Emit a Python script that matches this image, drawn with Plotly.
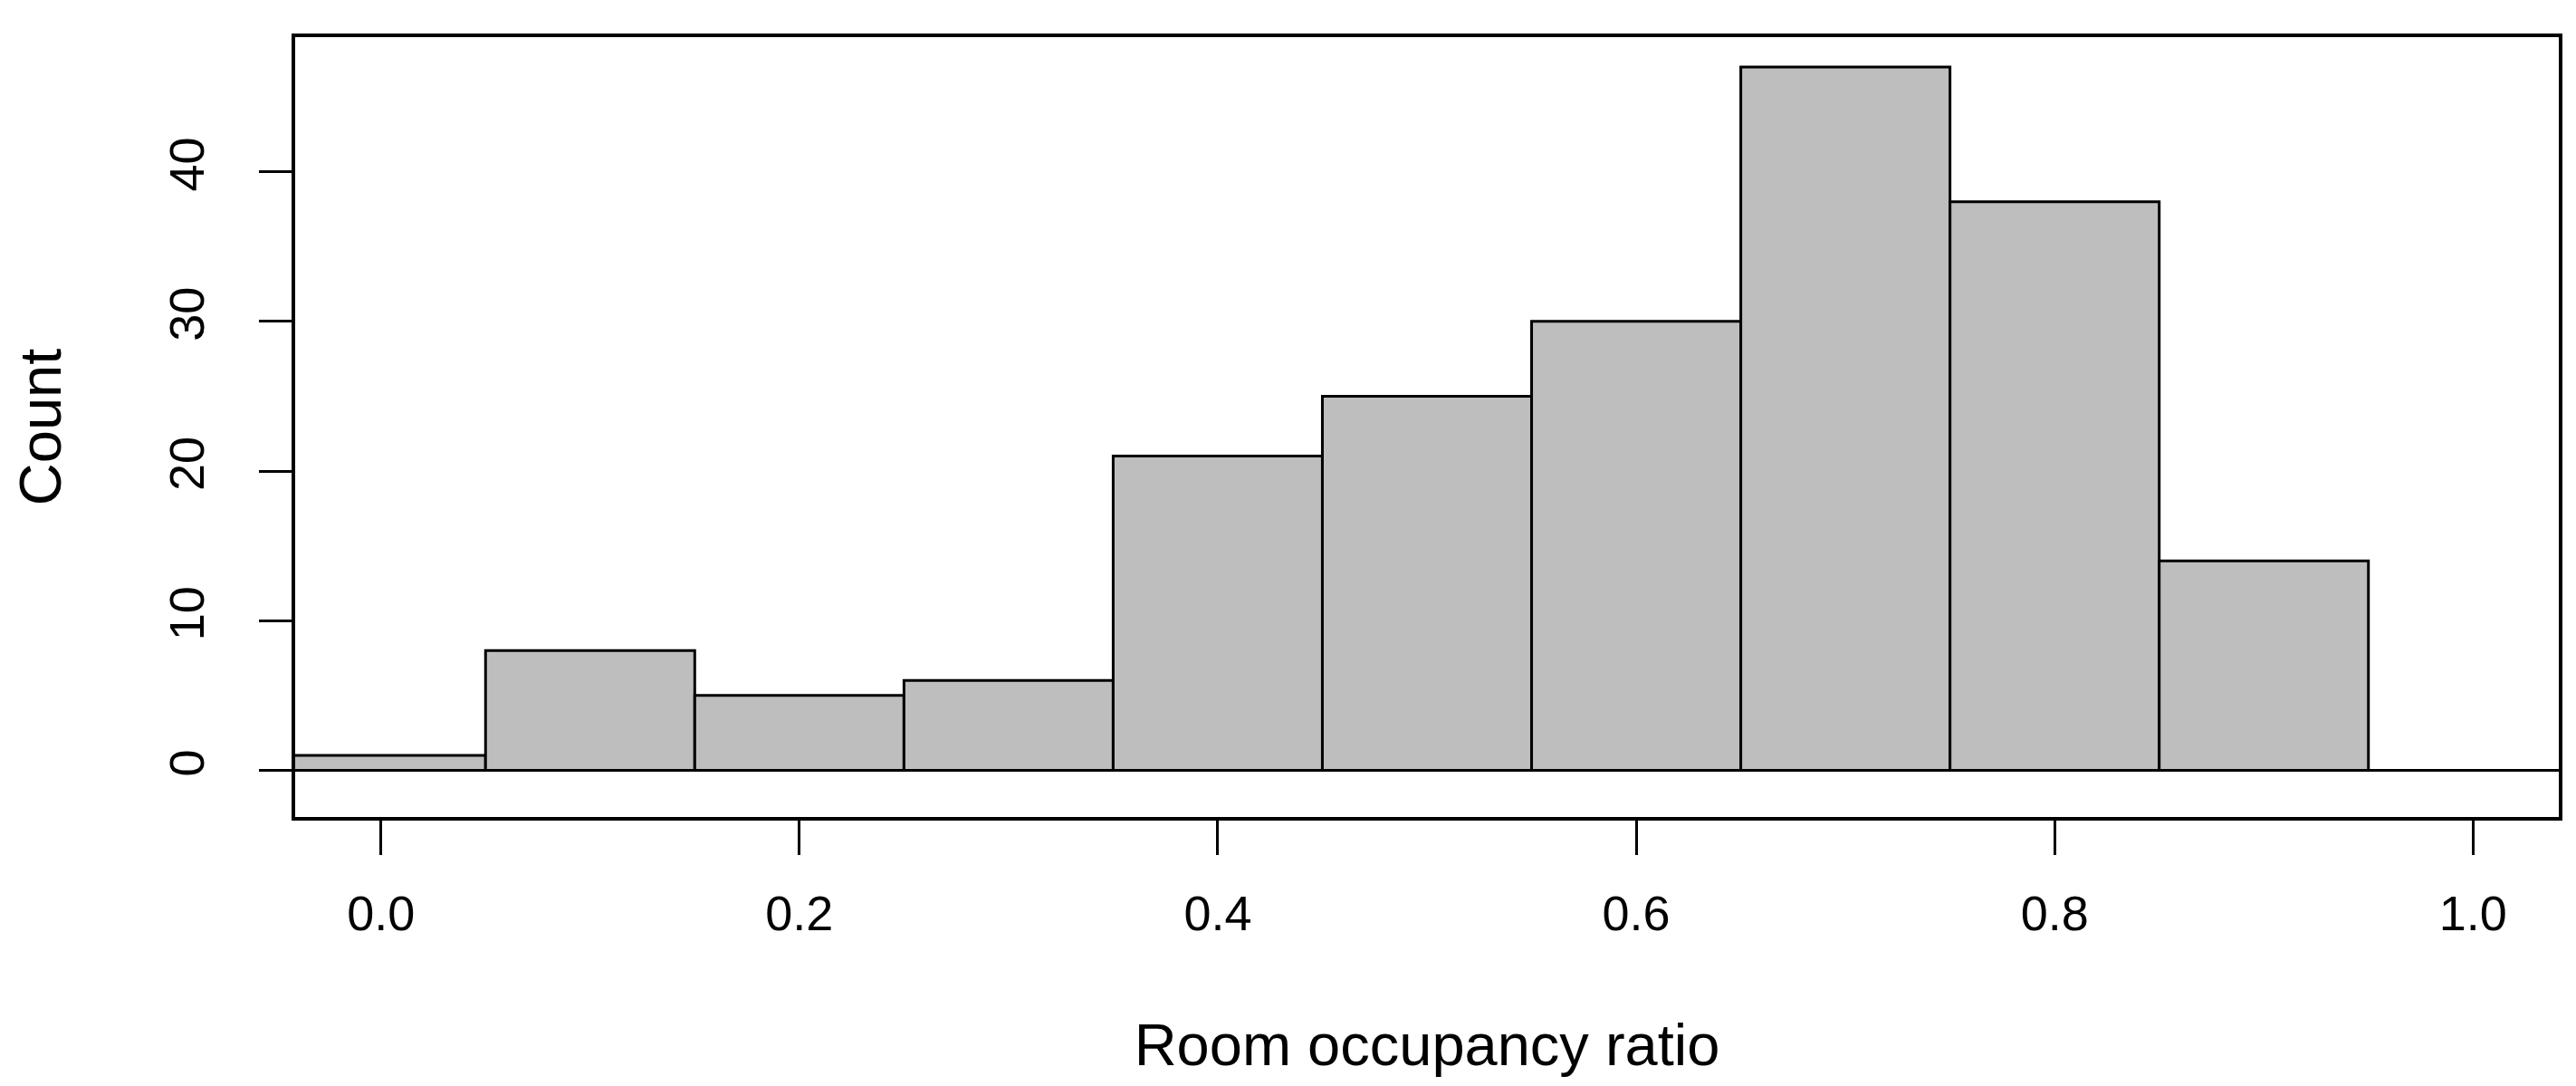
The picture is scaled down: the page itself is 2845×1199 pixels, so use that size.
import plotly.graph_objects as go

bin_centers = [0.0, 0.1, 0.2, 0.3, 0.4, 0.5, 0.6, 0.7, 0.8, 0.9]
counts = [1, 8, 5, 6, 21, 25, 30, 47, 38, 14]
x_ticks = [0.0, 0.2, 0.4, 0.6, 0.8, 1.0]
x_tick_labels = ["0.0", "0.2", "0.4", "0.6", "0.8", "1.0"]
y_ticks = [0, 10, 20, 30, 40]

font = "Liberation Sans, Arial, sans-serif"
fig = go.Figure(go.Bar(x=bin_centers, y=counts, width=0.1,
                       marker=dict(color="#BEBEBE", line=dict(color="black", width=3))))
fig.add_shape(type="line", xref="paper", x0=0, x1=1, yref="y", y0=0, y1=0,
              line=dict(color="black", width=3))
fig.update_layout(
    width=2845, height=1199, plot_bgcolor="white", paper_bgcolor="white",
    margin=dict(l=318, r=27, t=33, b=305), showlegend=False,
    font=dict(family=font, size=54, color="black"),
    xaxis=dict(range=[-0.041, 1.041], tickvals=x_ticks, ticktext=x_tick_labels,
               showline=True, mirror=True, linecolor="black", linewidth=3.5,
               ticks="outside", ticklen=38, tickwidth=3, tickcolor="black",
               ticklabelstandoff=18, showgrid=False, zeroline=False,
               title=dict(text="Room occupancy ratio", standoff=95)),
    yaxis=dict(range=[-3.12, 49], tickvals=y_ticks, tickangle=-90,
               showline=True, mirror=True, linecolor="black", linewidth=3.5,
               ticks="outside", ticklen=36, tickwidth=3, tickcolor="black",
               ticklabelstandoff=40, showgrid=False, zeroline=False,
               title=dict(text="Count", standoff=100)),
)
fig.write_html("out.html")
